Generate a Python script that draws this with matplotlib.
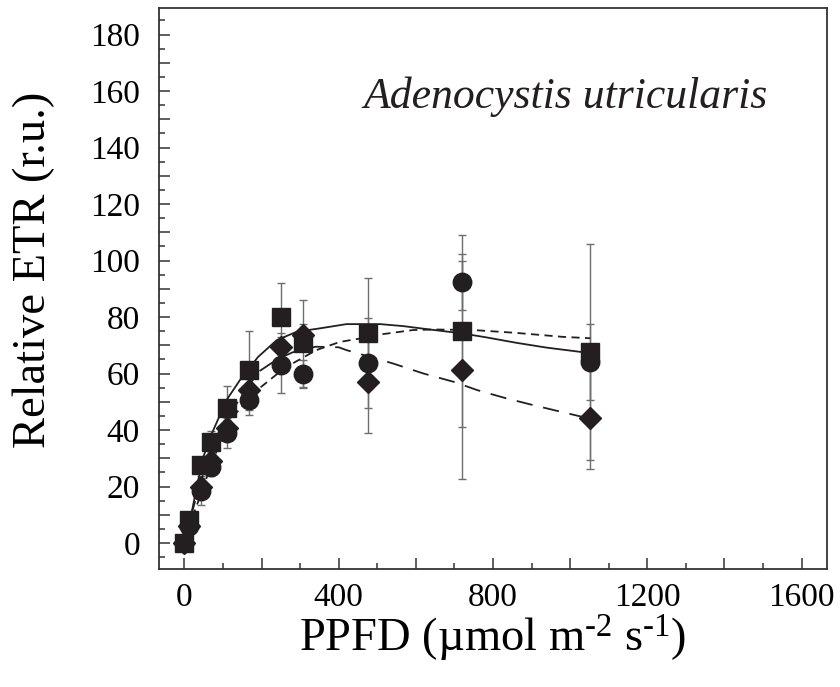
"""
Relative ETR vs PPFD, Adenocystis utricularis
"""
import matplotlib
matplotlib.use('Agg')
import matplotlib.pyplot as plt
from matplotlib.ticker import MultipleLocator, FuncFormatter

plt.rcParams['font.family'] = ['Liberation Serif', 'DejaVu Serif']
plt.rcParams['mathtext.fontset'] = 'custom'
plt.rcParams['mathtext.rm'] = 'Liberation Serif'
plt.rcParams['mathtext.it'] = 'Liberation Serif:italic'

# measured points (same PPFD steps for the three series)
ppfd = [0, 12, 42, 70, 110, 167, 250, 308, 475, 720, 1052]
etr_square = [0, 8.0, 27.8, 35.7, 47.7, 61.2, 79.9, 70.7, 74.2, 75.0, 67.7]
err_square = [0.5, 1.5, 2.0, 4.0, 8.0, 14.0, 12.2, 15.3, 19.7, 34.0, 38.3]
etr_circle = [0, 6.0, 18.6, 26.8, 39.0, 50.5, 63.0, 59.8, 63.8, 92.4, 64.2]
err_circle = [0.5, 1.5, 5.0, 3.0, 5.4, 5.3, 10.0, 5.0, 16.0, 10.0, 13.5]
etr_diamond = [0, 6.0, 20.0, 29.2, 40.6, 54.1, 69.5, 73.6, 56.9, 61.2, 44.1]
err_diamond = [0.5, 1.5, 3.0, 3.0, 3.0, 4.0, 5.0, 4.0, 18.0, 38.5, 18.0]

# fitted curves
fit_solid_x = [0, 6, 27, 49, 75, 109, 144, 191, 239, 291, 351, 420, 508, 567,
               636, 721, 783, 860, 938, 1025, 1052]
fit_solid_y = [0, 2.2, 16.4, 30.5, 40, 50.6, 57.7, 65.9, 71.8, 74.8, 76, 77.5,
               77.5, 76.8, 75.6, 74.2, 72.8, 70.9, 69.2, 67.7, 67.2]
fit_short_x = [0, 20, 42, 75, 126, 178, 260, 342, 403, 455, 506, 592, 650, 750,
               860, 980, 1052]
fit_short_y = [0, 9, 17, 30, 44.7, 53, 62, 68.3, 71.2, 72.4, 73.8, 75.4, 75.6,
               75.4, 74.4, 73, 72.5]
fit_long_x = [0, 20, 42, 75, 110, 150, 196, 240, 280, 340, 400, 420, 540, 620,
              700, 760, 835, 905, 975, 1052]
fit_long_y = [0, 11, 22, 33, 43, 53, 61, 65, 67.5, 69.5, 69.3, 68.3, 63.6, 60,
              57, 54.1, 51.2, 48.8, 46.5, 44]

mk_color = '#231f20'
bar_color = '#6d6e70'

fig = plt.figure(figsize=(8.4, 6.87), dpi=100)
ax = fig.add_axes([0.1897, 0.1713, 0.7945, 0.8166])

# fit lines
ax.plot(fit_solid_x, fit_solid_y, '-', color=mk_color, lw=1.3, zorder=3)
ax.plot(fit_short_x, fit_short_y, color=mk_color, lw=1.3, ls=(0, (4.5, 3)), zorder=3)
ax.plot(fit_long_x, fit_long_y, color=mk_color, lw=1.3, ls=(0, (9, 6)), zorder=3)

# error bars first, markers on top
for y, e in [(etr_square, err_square), (etr_circle, err_circle), (etr_diamond, err_diamond)]:
    ax.errorbar(ppfd, y, yerr=e, fmt='none', ecolor=bar_color, elinewidth=1.0,
                capsize=3, capthick=1.0, zorder=2)

ax.plot(ppfd, etr_circle, 'o', ms=13.3, color=mk_color, mec=mk_color, zorder=4)
ax.plot(ppfd, etr_diamond, 'D', ms=11.3, color=mk_color, mec=mk_color, zorder=4)
ax.plot(ppfd, etr_square, 's', ms=13.5, color=mk_color, mec=mk_color, zorder=5)

ax.set_xlim(-65, 1665)
ax.set_ylim(-9.3, 189.3)

ax.xaxis.set_major_locator(MultipleLocator(200))
ax.xaxis.set_minor_locator(MultipleLocator(100))
ax.xaxis.set_major_formatter(FuncFormatter(lambda v, p: f'{v:.0f}' if v % 400 == 0 else ''))
ax.yaxis.set_major_locator(MultipleLocator(10))
ax.yaxis.set_minor_locator(MultipleLocator(5))
ax.yaxis.set_major_formatter(FuncFormatter(lambda v, p: f'{v:.0f}' if v % 20 == 0 else ''))

ax.tick_params(which='both', direction='in', top=False, right=False,
               color='#333333', width=1.1)
ax.tick_params(which='major', length=8, labelsize=24)
ax.tick_params(which='minor', length=4)
ax.tick_params(axis='y', which='major', pad=14)
ax.tick_params(axis='x', which='major', pad=9.5)

for s in ax.spines.values():
    s.set_color('#333333')
    s.set_linewidth(1.3)

ax.set_xlabel(r'PPFD (µmol m$^{\text{-2}}$ s$^{\text{-1}}$)', fontsize=33.5)
ax.set_ylabel('Relative ETR (r.u.)', fontsize=33.5)
ax.xaxis.set_label_coords(0.5, -0.078)
ax.yaxis.set_label_coords(-0.157, 0.534)

ax.text(0.608, 0.822, 'Adenocystis utricularis', transform=ax.transAxes,
        fontsize=31.5, style='italic', ha='center', va='baseline', color='#231f20')

fig.savefig('out.png', dpi=100)
